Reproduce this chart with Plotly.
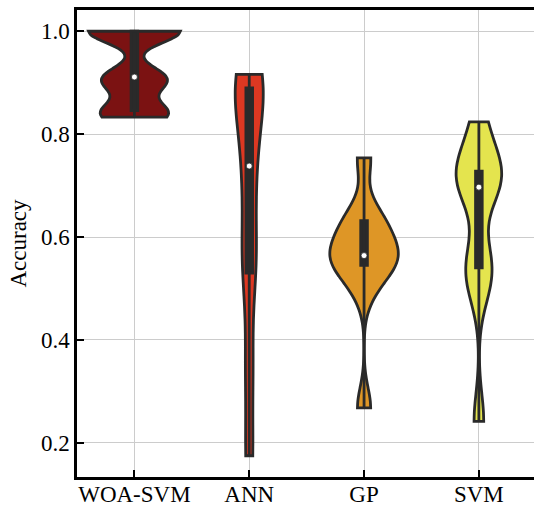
import numpy as np
import plotly.graph_objects as go

# ---------------- data ----------------
categories = ["WOA-SVM", "ANN", "GP", "SVM"]
woa_svm = [0.833, 0.840, 0.846, 0.895, 0.909, 0.913, 1.000, 1.000, 1.000, 1.000]
ann = [0.175, 0.350, 0.530, 0.580, 0.700, 0.776, 0.870, 0.890, 0.905, 0.916]
gp = [0.268, 0.500, 0.545, 0.555, 0.560, 0.568, 0.600, 0.632, 0.637, 0.754]
svm = [0.242, 0.500, 0.540, 0.560, 0.690, 0.704, 0.720, 0.728, 0.760, 0.824]
y_ticks = [0.2, 0.4, 0.6, 0.8, 1.0]
y_label = "Accuracy"

# ---------------- styles ----------------
series = [woa_svm, ann, gp, svm]
fill_colors = ["#7b1212", "#dd3822", "#de9626", "#e4e44e"]
gray = "#2a2a2a"
BW_ADJUST = 0.5
MAX_WIDTH = 0.8
FONT = "Liberation Serif"


def bandwidth(v):
    v = np.asarray(v, float)
    return BW_ADJUST * v.std(ddof=1) * len(v) ** (-1 / 5)


def peak_density(v, bw):
    v = np.asarray(v, float)
    grid = np.linspace(v.min(), v.max(), 400)
    z = (grid[:, None] - v[None, :]) / bw
    dens = np.exp(-0.5 * z ** 2).sum(axis=1) / (len(v) * bw * np.sqrt(2 * np.pi))
    return dens.max()


bws = [bandwidth(s) for s in series]
peaks = [peak_density(s, b) for s, b in zip(series, bws)]
widths = [MAX_WIDTH * p / max(peaks) for p in peaks]

fig = go.Figure()

for cat, vals, col, bw, w in zip(categories, series, fill_colors, bws, widths):
    fig.add_trace(go.Violin(
        x=[cat] * len(vals), y=vals, name=cat,
        bandwidth=bw, spanmode="hard", scalemode="width", width=w,
        fillcolor=col, opacity=1, line=dict(color=gray, width=2.8),
        points=False, box_visible=False, meanline_visible=False,
        showlegend=False, hoverinfo="skip",
    ))

all_x = [c for c, s in zip(categories, series) for _ in s]
all_y = [v for s in series for v in s]

fig.add_trace(go.Box(
    x=all_x, y=all_y, quartilemethod="linear", boxpoints=False,
    fillcolor=gray, line=dict(color=gray, width=2.8), whiskerwidth=0,
    width=0.058, showlegend=False, hoverinfo="skip",
))

fig.add_trace(go.Scatter(
    x=categories, y=[float(np.median(s)) for s in series], mode="markers",
    marker=dict(color="white", size=6, line=dict(color=gray, width=0.8)),
    showlegend=False, hoverinfo="skip",
))

lo, hi = min(all_y), max(all_y)
pad = 0.05 * (hi - lo)

fig.update_layout(
    width=534, height=505,
    margin=dict(l=77, r=0, t=10, b=28),
    paper_bgcolor="white", plot_bgcolor="white",
    violinmode="overlay", boxmode="overlay",
    font=dict(family=FONT, size=23, color="black"),
    showlegend=False,
)
fig.update_xaxes(
    type="category", categoryorder="array", categoryarray=categories,
    range=[-0.5, 3.48], automargin=False,
    showline=True, linecolor="black", linewidth=2.5, mirror=True,
    ticks="inside", ticklen=7, tickwidth=2, tickcolor="black",
    showgrid=True, gridcolor="#cccccc", gridwidth=1.3,
    zeroline=False, ticklabelstandoff=-5,
    tickfont=dict(family=FONT, size=23, color="black"),
)
fig.update_yaxes(
    range=[lo - pad, hi + pad], automargin=False,
    tickvals=y_ticks, ticktext=[f"{t:.1f}" for t in y_ticks],
    showline=True, linecolor="black", linewidth=2.5, mirror=False,
    ticks="inside", ticklen=7, tickwidth=2, tickcolor="black",
    showgrid=True, gridcolor="#cccccc", gridwidth=1.3,
    zeroline=False,
    tickfont=dict(family=FONT, size=23, color="black"),
    title=dict(text=y_label, font=dict(family=FONT, size=23, color="black"), standoff=8),
)

fig.write_html("out.html")
